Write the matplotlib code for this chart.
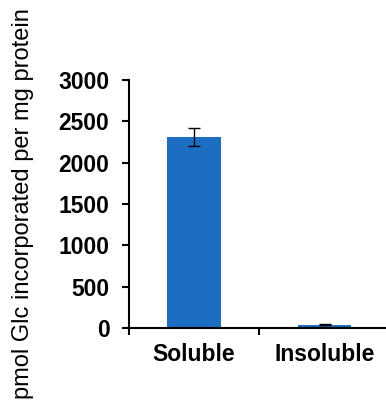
import matplotlib
matplotlib.use('Agg')
import matplotlib.pyplot as plt

# ===== DADOS =====
categorias = ['Soluble', 'Insoluble']
valores = [2315, 40]
erros = [110, 8]
yticks = [0, 500, 1000, 1500, 2000, 2500, 3000]

plt.rcParams['font.family'] = ['Liberation Sans', 'DejaVu Sans']

fig = plt.figure(figsize=(3.86, 4.08), dpi=100)
ax = fig.add_axes([0.334, 0.196, 0.676, 0.608])

pos = list(range(len(categorias)))
ax.bar(pos, valores, width=0.41, color='#1b6ec2', zorder=2)
ax.errorbar(pos, valores, yerr=erros, fmt='none', ecolor='black',
            elinewidth=1.0, capsize=4.5, capthick=1.0, zorder=3)

ax.set_xlim(-0.5, len(categorias) - 0.5)
ax.set_ylim(0, 3000)
ax.set_yticks(yticks)
ax.set_yticklabels([str(v) for v in yticks], fontsize=16.5, fontweight='bold')

# ticks nas fronteiras das categorias, rótulos no centro
ax.set_xticks([p - 0.5 for p in pos] + [pos[-1] + 0.5])
ax.set_xticklabels([])
ax.set_xticks(pos, minor=True)
ax.set_xticklabels(categorias, minor=True, fontsize=16.5, fontweight='bold')
ax.tick_params(axis='x', which='minor', length=0, pad=11)
ax.tick_params(axis='x', which='major', length=5, width=1.5, direction='out')
ax.tick_params(axis='y', length=5, width=1.5, direction='out', pad=9)

for lado in ['top', 'right']:
    ax.spines[lado].set_visible(False)
for lado in ['left', 'bottom']:
    ax.spines[lado].set_linewidth(1.5)

fig.text(23 / 386, 0.5, 'pmol Glc incorporated per mg protein',
         rotation=90, ha='center', va='center', fontsize=17)

plt.savefig('out.png', dpi=100)
plt.close()
